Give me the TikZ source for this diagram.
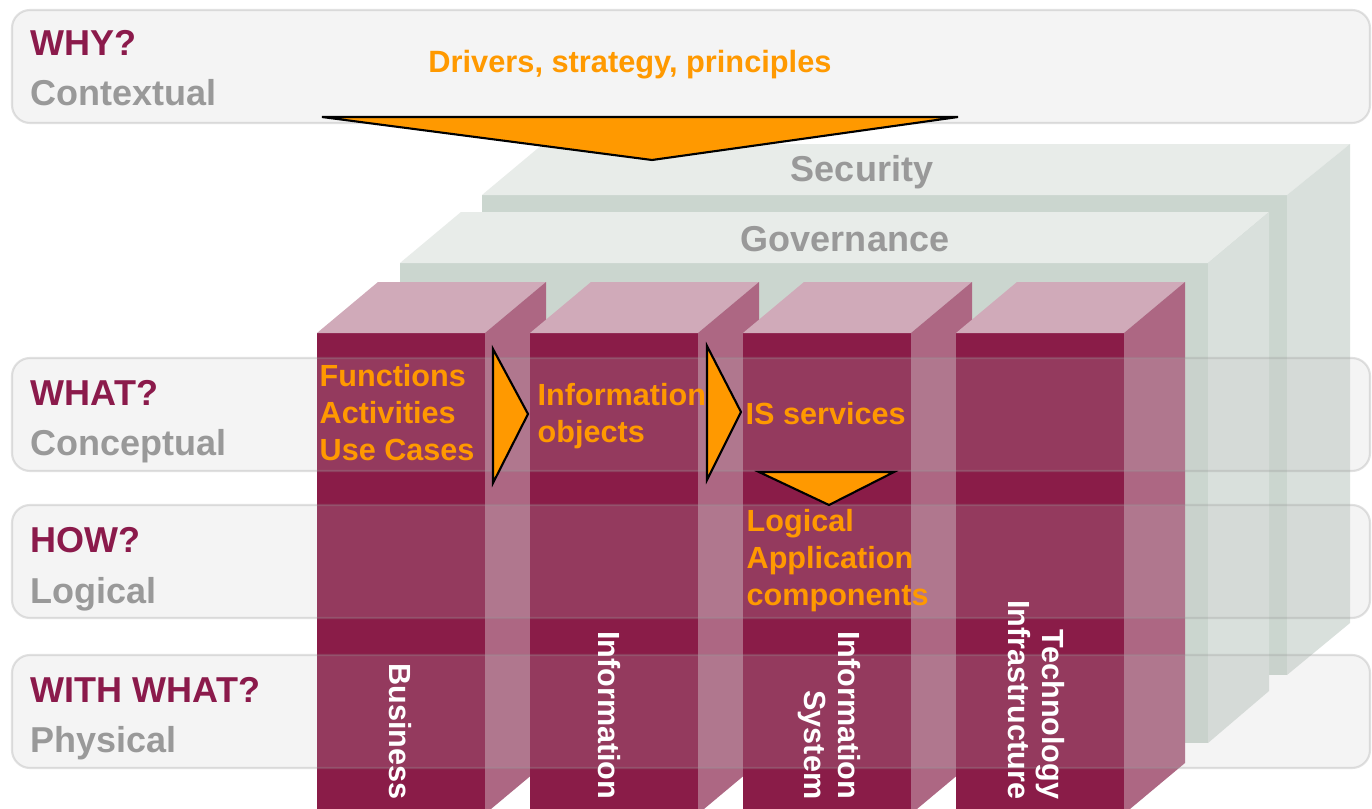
\documentclass[tikz,border=0pt]{standalone}
\usepackage{fontspec}
\setmainfont{Liberation Sans}

\definecolor{whyred}{RGB}{139,26,75}
\definecolor{subgrey}{RGB}{153,153,153}
\definecolor{drvorange}{RGB}{255,153,0}
\definecolor{pfrontc}{RGB}{138,28,72}
\definecolor{ptopc}{RGB}{208,170,185}
\definecolor{psidec}{RGB}{173,103,131}
\definecolor{gfrontc}{RGB}{203,214,207}
\definecolor{gtopc}{RGB}{232,236,233}
\definecolor{gsidec}{RGB}{217,224,220}
\definecolor{bandgrey}{RGB}{195,195,195}
\definecolor{bandline}{RGB}{150,150,150}

\begin{document}
\begin{tikzpicture}[x=0.01cm,y=-0.01cm,
    band/.style={rounded corners=0.18cm,fill=bandgrey,fill opacity=0.18,
      draw=bandline,draw opacity=0.28,line width=0.6pt},
    rowq/.style={anchor=base west,inner sep=0,text=whyred,
      font=\bfseries\fontsize{10.24}{12}\selectfont},
    rowsub/.style={rowq,text=subgrey},
    layer/.style={inner sep=0,text=subgrey,font=\bfseries\fontsize{10.24}{12}\selectfont},
    note/.style={anchor=base west,inner sep=0,align=left,text=drvorange,
      font=\bfseries\fontsize{8.7}{10.4}\selectfont},
    colname/.style={anchor=east,inner sep=0,rotate=-90,align=right,text=white,
      font=\bfseries\fontsize{8.7}{9.7}\selectfont},
    pfront/.style={fill=pfrontc},
    ptop/.style={fill=ptopc},
    pside/.style={fill=psidec},
    arrowtri/.style={fill=drvorange,draw=black,line width=0.6pt,line join=miter}]

  \useasboundingbox (0,0) rectangle (1372,809);
  \clip (0,0) rectangle (1372,809);
  \fill[white] (0,0) rectangle (1372,809);

  % security slab
  \fill[gfrontc] (482,195) rectangle (1287,675);
  \fill[gtopc] (482,195) -- (543,144) -- (1350,144) -- (1287,195) -- cycle;
  \fill[gsidec] (1287,195) -- (1350,144) -- (1350,623) -- (1287,675) -- cycle;
  \node[layer] (security) at (862,172) {Security};

  % governance slab
  \fill[gfrontc] (400,263) rectangle (1208,743);
  \fill[gtopc] (400,263) -- (461,212) -- (1269,212) -- (1208,263) -- cycle;
  \fill[gsidec] (1208,263) -- (1269,212) -- (1269,691) -- (1208,743) -- cycle;
  \node[layer] (governance) at (845,239) {Governance};

  % pillars
  \fill[pfront] (317,333) rectangle (485,814);
  \fill[ptop] (317,333) -- (378,282) -- (546,282) -- (485,333) -- cycle;
  \fill[pside] (485,333) -- (546,282) -- (546,763) -- (485,814) -- cycle;

  \fill[pfront] (530,333) rectangle (698,814);
  \fill[ptop] (530,333) -- (591,282) -- (759,282) -- (698,333) -- cycle;
  \fill[pside] (698,333) -- (759,282) -- (759,763) -- (698,814) -- cycle;

  \fill[pfront] (743,333) rectangle (911,814);
  \fill[ptop] (743,333) -- (804,282) -- (972,282) -- (911,333) -- cycle;
  \fill[pside] (911,333) -- (972,282) -- (972,763) -- (911,814) -- cycle;

  \fill[pfront] (956,333) rectangle (1124,814);
  \fill[ptop] (956,333) -- (1017,282) -- (1185,282) -- (1124,333) -- cycle;
  \fill[pside] (1124,333) -- (1185,282) -- (1185,763) -- (1124,814) -- cycle;

  % rows
  \draw[band] (12,10) rectangle (1370,123);
  \draw[band] (12,358) rectangle (1370,471);
  \draw[band] (12,505) rectangle (1370,618);
  \draw[band] (12,655) rectangle (1370,768);

  \node[rowq] (why) at (30,55) {WHY?};
  \node[rowsub] (contextual) at (30,105) {Contextual};
  \node[rowq] (what) at (30,405) {WHAT?};
  \node[rowsub] (conceptual) at (30,455) {Conceptual};
  \node[rowq] (how) at (30,552) {HOW?};
  \node[rowsub] (logical) at (30,603) {Logical};
  \node[rowq] (withwhat) at (30,702) {WITH WHAT?};
  \node[rowsub] (physical) at (30,752) {Physical};

  % column names
  \node[colname] (business) at (400,800) {Business};
  \node[colname] (information) at (609,800) {Information};
  \node[colname] (infosys) at (829,800) {Information\\System};
  \node[colname] (techinfra) at (1036,800) {Technology\\Infrastructure};

  % drivers
  \node[note,anchor=base,font=\bfseries\fontsize{8.75}{10.4}\selectfont] (drivers) at (630,73) {Drivers, strategy, principles};
  \filldraw[arrowtri] (322,117) -- (958,117) -- (652,160) -- cycle;

  % base = last line
  \node[note] (functions) at (319,460) {Functions\\Activities\\Use Cases};
  \node[note] (infoobj) at (537,442) {Information\\objects};
  \node[note] (isserv) at (745,424) {IS services};
  \node[note] (logapp) at (746,605) {Logical\\Application\\components};

  \filldraw[arrowtri] (493,349) -- (528,414) -- (493,483) -- cycle;
  \filldraw[arrowtri] (707,346) -- (741,412) -- (707,480) -- cycle;
  \filldraw[arrowtri] (759,472) -- (894,472) -- (829,505) -- cycle;
\end{tikzpicture}
\end{document}
